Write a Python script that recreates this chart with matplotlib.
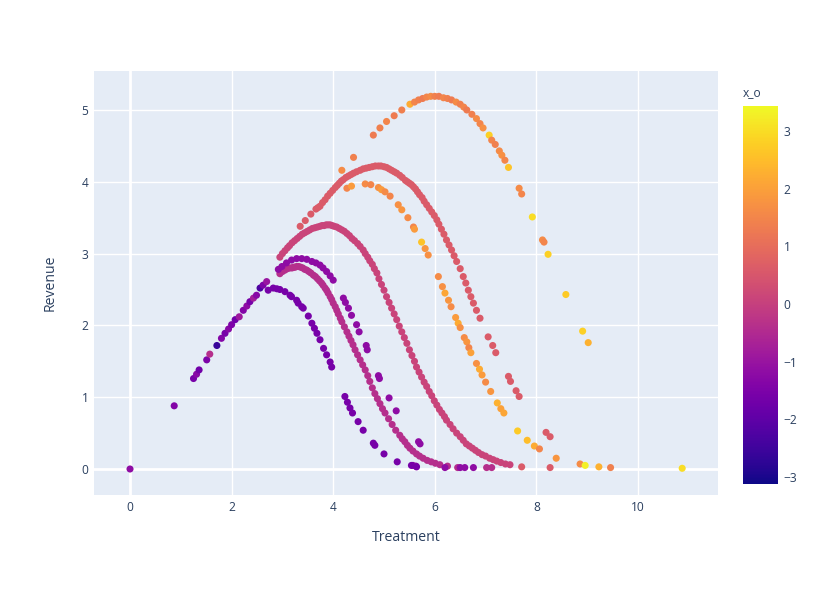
import matplotlib
matplotlib.use("Agg")
import matplotlib.pyplot as plt
import numpy as np

plt.rcParams['font.family'] = ['Open Sans', 'DejaVu Sans']

# ---------------- data ----------------
# shared rising branch
trunk_t = [0.0, 0.87, 1.25, 1.31, 1.36, 1.51, 1.57, 1.71, 1.80, 1.87, 1.94, 2.00, 2.07, 2.15,
           2.23, 2.30, 2.36, 2.43, 2.49, 2.56, 2.62, 2.69]
trunk_r = [0.0, 0.88, 1.26, 1.32, 1.38, 1.52, 1.60, 1.72, 1.82, 1.89, 1.95, 2.01, 2.08, 2.12,
           2.21, 2.27, 2.33, 2.38, 2.42, 2.52, 2.56, 2.61]
trunk_xo = [-1.2, -1.4, -1.6, -1.3, -1.7, -1.5, -0.4, -2.6, -1.4, -1.6, -1.3, -1.5, -1.7, -0.9,
            -1.4, -1.2, -1.6, -0.8, -1.3, -2.3, -1.5, -1.0]

# lower purple curve
lp_t = [2.72, 2.82, 2.89, 2.95, 3.05, 3.15, 3.18, 3.28, 3.31, 3.38, 3.41, 3.51, 3.58, 3.63, 3.68,
        3.74, 3.81, 3.87, 3.94, 3.97, 4.23, 4.28, 4.33, 4.38, 4.49, 4.59, 4.79, 4.82, 5.00, 5.26,
        5.54, 5.64]
lp_r = [2.49, 2.52, 2.51, 2.50, 2.47, 2.42, 2.40, 2.35, 2.31, 2.26, 2.24, 2.13, 2.03, 1.96, 1.89,
        1.80, 1.68, 1.59, 1.49, 1.42, 1.01, 0.93, 0.85, 0.78, 0.66, 0.54, 0.36, 0.33, 0.21, 0.10,
        0.05, 0.03]
lp_xo = -1.6

# upper purple curve
up_t = [2.92, 2.99, 3.08, 3.18, 3.28, 3.38, 3.48, 3.58, 3.66, 3.74, 3.80, 3.87, 3.94, 4.00, 4.20,
        4.24, 4.30, 4.36, 4.46, 4.51, 4.65, 4.67, 4.89, 4.91, 5.10, 5.24, 5.68, 5.71, 5.57, 5.63,
        6.20, 6.50, 6.59, 6.76]
up_r = [2.78, 2.82, 2.87, 2.91, 2.93, 2.93, 2.92, 2.89, 2.87, 2.84, 2.80, 2.75, 2.69, 2.63, 2.38,
        2.32, 2.24, 2.14, 2.01, 1.91, 1.72, 1.66, 1.30, 1.26, 0.99, 0.81, 0.38, 0.35, 0.05, 0.04,
        0.02, 0.02, 0.02, 0.02]
up_xo = -1.2

# magenta curve
mg_t = [2.95, 3.00, 3.05, 3.10, 3.15, 3.19, 3.22, 3.25, 3.28, 3.32, 3.36, 3.40, 3.44, 3.48, 3.52,
        3.56, 3.61, 3.65, 3.69, 3.73, 3.77, 3.80, 3.84, 3.87, 3.90, 3.94, 3.97, 4.00, 4.04, 4.07,
        4.10, 4.14, 4.17, 4.22, 4.27, 4.31, 4.35, 4.39, 4.43, 4.48, 4.53, 4.58, 4.63, 4.68, 4.72,
        4.77, 4.82, 4.87, 4.92, 4.97, 5.02, 5.09, 5.16, 5.23, 5.31, 5.36, 5.41, 5.46, 5.51, 5.57,
        5.64, 5.70, 5.77, 5.85, 5.93, 6.01, 6.10, 6.25, 6.45, 7.02, 7.12]
mg_r = [2.72, 2.75, 2.77, 2.79, 2.80, 2.80, 2.81, 2.81, 2.82, 2.82, 2.81, 2.80, 2.78, 2.77, 2.75,
        2.73, 2.70, 2.68, 2.65, 2.62, 2.59, 2.56, 2.52, 2.49, 2.45, 2.40, 2.36, 2.31, 2.26, 2.21,
        2.16, 2.10, 2.05, 1.98, 1.91, 1.85, 1.79, 1.73, 1.66, 1.59, 1.52, 1.45, 1.38, 1.30, 1.22,
        1.13, 1.05, 0.98, 0.91, 0.84, 0.78, 0.70, 0.62, 0.54, 0.47, 0.42, 0.38, 0.33, 0.29, 0.25,
        0.21, 0.18, 0.15, 0.12, 0.10, 0.08, 0.06, 0.04, 0.02, 0.02, 0.02]
mg_xo = -0.4

# pink curve
pk_t = [2.95, 3.00, 3.05, 3.10, 3.14, 3.19, 3.24, 3.29, 3.34, 3.39, 3.44, 3.49, 3.54, 3.59, 3.64,
        3.69, 3.74, 3.78, 3.82, 3.86, 3.90, 3.94, 3.98, 4.02, 4.07, 4.12, 4.17, 4.22, 4.27, 4.32,
        4.37, 4.42, 4.48, 4.53, 4.59, 4.63, 4.68, 4.72, 4.77, 4.81, 4.86, 4.90, 4.95, 5.00, 5.05,
        5.10, 5.15, 5.20, 5.25, 5.30, 5.35, 5.40, 5.45, 5.50, 5.55, 5.60, 5.64, 5.69, 5.74, 5.79,
        5.84, 5.89, 5.94, 5.99, 6.04, 6.09, 6.14, 6.19, 6.23, 6.30, 6.36, 6.43, 6.50, 6.56, 6.62,
        6.68, 6.74, 6.80, 6.86, 6.93, 7.00, 7.08, 7.15, 7.22, 7.30, 7.39, 7.48]
pk_r = [2.95, 3.00, 3.04, 3.08, 3.11, 3.15, 3.18, 3.21, 3.24, 3.27, 3.29, 3.31, 3.33, 3.35, 3.36,
        3.37, 3.38, 3.39, 3.39, 3.40, 3.40, 3.40, 3.39, 3.38, 3.37, 3.35, 3.33, 3.31, 3.28, 3.25,
        3.21, 3.18, 3.14, 3.10, 3.05, 3.00, 2.95, 2.90, 2.85, 2.79, 2.73, 2.65, 2.57, 2.49, 2.40,
        2.32, 2.24, 2.16, 2.08, 1.99, 1.91, 1.83, 1.75, 1.66, 1.58, 1.50, 1.42, 1.35, 1.28, 1.21,
        1.15, 1.08, 1.02, 0.95, 0.89, 0.83, 0.78, 0.73, 0.68, 0.62, 0.56, 0.50, 0.45, 0.40, 0.35,
        0.32, 0.29, 0.26, 0.23, 0.20, 0.18, 0.15, 0.13, 0.11, 0.09, 0.07, 0.06]
pk_xo = 0.1

# pink-red curve
pr_t = [3.35, 3.45, 3.56, 3.66, 3.70, 3.74, 3.79, 3.84, 3.89, 3.94, 3.99, 4.04, 4.08, 4.12, 4.16,
        4.20, 4.25, 4.30, 4.35, 4.40, 4.46, 4.53, 4.59, 4.65, 4.71, 4.77, 4.83, 4.89, 4.94, 5.00,
        5.05, 5.10, 5.15, 5.20, 5.25, 5.31, 5.36, 5.42, 5.46, 5.50, 5.54, 5.58, 5.62, 5.66, 5.70,
        5.75, 5.79, 5.84, 5.89, 5.94, 5.99, 6.04, 6.08, 6.13, 6.18, 6.23, 6.28, 6.33, 6.38, 6.43,
        6.50, 6.56, 6.61, 6.66, 6.71, 6.76, 6.82, 6.89, 7.05, 7.14, 7.20, 7.45, 7.49, 7.60, 7.66,
        8.19, 8.27, 8.27, 7.71]
pr_r = [3.38, 3.46, 3.55, 3.62, 3.64, 3.66, 3.71, 3.75, 3.80, 3.84, 3.88, 3.92, 3.95, 3.98, 4.01,
        4.03, 4.06, 4.08, 4.10, 4.12, 4.14, 4.16, 4.18, 4.19, 4.20, 4.21, 4.22, 4.22, 4.22, 4.21,
        4.20, 4.18, 4.16, 4.14, 4.12, 4.09, 4.06, 4.02, 4.00, 3.98, 3.96, 3.93, 3.90, 3.86, 3.82,
        3.78, 3.73, 3.68, 3.63, 3.58, 3.53, 3.47, 3.41, 3.34, 3.27, 3.19, 3.12, 3.05, 2.97, 2.89,
        2.79, 2.68, 2.59, 2.49, 2.40, 2.31, 2.21, 2.10, 1.84, 1.72, 1.62, 1.29, 1.22, 1.09, 1.01,
        0.51, 0.45, 0.02, 0.03]
pr_xo = 0.6

# lower orange curve
lo_t = [4.27, 4.36, 4.63, 4.74, 4.89, 4.95, 5.02, 5.12, 5.28, 5.35, 5.47, 5.58, 5.60, 5.74, 5.81,
        5.87, 6.07, 6.15, 6.20, 6.27, 6.32, 6.41, 6.46, 6.50, 6.58, 6.63, 6.67, 6.71, 6.82, 6.88,
        6.93, 7.00, 7.10, 7.23, 7.30, 7.36, 7.63, 7.82, 7.96, 8.06, 8.39, 8.86, 8.96, 9.23, 9.46,
        10.87]
lo_r = [3.91, 3.94, 3.97, 3.96, 3.92, 3.89, 3.86, 3.80, 3.68, 3.61, 3.50, 3.37, 3.34, 3.16, 3.07,
        2.98, 2.68, 2.54, 2.45, 2.35, 2.26, 2.11, 2.03, 1.97, 1.83, 1.77, 1.69, 1.62, 1.47, 1.39,
        1.31, 1.21, 1.08, 0.92, 0.84, 0.78, 0.53, 0.40, 0.32, 0.28, 0.15, 0.07, 0.05, 0.03, 0.02,
        0.01]
lo_xo = [1.5, 1.9, 1.6, 1.5, 1.7, 1.9, 1.6, 1.5, 1.7, 1.8, 1.6, 1.5, 1.9, 2.6, 1.8,
         1.7, 1.6, 1.7, 2.1, 1.8, 1.6, 1.9, 2.2, 1.7, 1.6, 1.8, 1.5, 2.0, 1.7, 2.2,
         1.9, 1.6, 1.8, 2.3, 2.0, 2.1, 2.7, 2.5, 2.2, 1.5, 1.8, 1.6, 3.3, 2.3, 1.4,
         3.0]

# top orange curve
to_t = [4.17, 4.40, 4.79, 4.92, 5.05, 5.20, 5.35, 5.51, 5.60, 5.68, 5.76, 5.84, 5.92, 6.00, 6.08,
        6.17, 6.25, 6.33, 6.42, 6.50, 6.57, 6.63, 6.73, 6.82, 6.89, 6.95, 7.07, 7.12, 7.19, 7.27,
        7.32, 7.38, 7.45, 7.66, 7.71, 7.92, 8.12, 8.15, 8.23, 8.58, 8.91, 9.02]
to_r = [4.16, 4.34, 4.65, 4.75, 4.84, 4.92, 5.00, 5.08, 5.11, 5.14, 5.16, 5.18, 5.19, 5.19, 5.19,
        5.17, 5.16, 5.14, 5.11, 5.08, 5.04, 5.00, 4.94, 4.88, 4.81, 4.75, 4.65, 4.58, 4.52, 4.43,
        4.37, 4.30, 4.20, 3.91, 3.83, 3.51, 3.19, 3.16, 2.99, 2.43, 1.92, 1.76]
to_xo = [1.6, 1.4, 1.3, 1.4, 1.5, 1.3, 1.4, 2.2, 1.5, 1.4, 1.3, 1.5, 1.6, 1.4, 1.3,
         1.5, 1.4, 1.3, 1.6, 1.4, 1.5, 1.3, 1.4, 1.6, 1.5, 1.7, 2.8, 1.5, 1.4, 1.6,
         1.7, 1.5, 2.6, 1.6, 1.5, 3.0, 1.6, 1.5, 2.8, 2.7, 2.8, 2.3]

xo_min, xo_max = -3.12, 3.43
x_ticks = [0, 2, 4, 6, 8, 10]
y_ticks = [0, 1, 2, 3, 4, 5]
cb_ticks = [-3, -2, -1, 0, 1, 2, 3]

# ---------------- figure ----------------
W, H = 830, 595
fig = plt.figure(figsize=(W / 100, H / 100), dpi=100)
L, R, T, B = 94, 718, 70.7, 495
ax = fig.add_axes([L / W, 1 - B / H, (R - L) / W, (B - T) / H])
ax.set_facecolor('#E5ECF6')
for s in ax.spines.values():
    s.set_visible(False)

ax.set_xlim(-0.709, 11.575)
ax.set_ylim(-0.362, 5.547)
ax.set_xticks(x_ticks)
ax.set_yticks(y_ticks)
ax.grid(True, color='white', linewidth=1.0)
ax.set_axisbelow(True)
ax.axhline(0, color='white', linewidth=2.0, zorder=0.5)
ax.axvline(0, color='white', linewidth=2.0, zorder=0.5)

txtc = '#2a3f5f'
ax.tick_params(length=0, labelsize=8.64, labelcolor=txtc, pad=4)
ax.set_xticklabels([str(v) for v in x_ticks])
ax.set_yticklabels([str(v) for v in y_ticks])
ax.set_xlabel('Treatment', fontsize=10.08, color=txtc, labelpad=12)
ax.set_ylabel('Revenue', fontsize=10.08, color=txtc, labelpad=17.5)

ms = 26
kw = dict(s=ms, cmap='plasma', vmin=xo_min, vmax=xo_max, linewidths=0, zorder=3)


def draw(t, r, xo):
    if np.isscalar(xo):
        xo = [xo] * len(t)
    return ax.scatter(t, r, c=xo, **kw)


draw(to_t, to_r, to_xo)
draw(lo_t, lo_r, lo_xo)
draw(pr_t, pr_r, pr_xo)
draw(pk_t, pk_r, pk_xo)
draw(mg_t, mg_r, mg_xo)
draw(up_t, up_r, up_xo)
draw(lp_t, lp_r, lp_xo)
sc = draw(trunk_t, trunk_r, trunk_xo)

# colorbar
cax = fig.add_axes([743 / W, 1 - 484 / H, 35 / W, (484 - 106) / H])
cb = fig.colorbar(sc, cax=cax)
cb.outline.set_visible(False)
cb.set_ticks(cb_ticks)
cb.set_ticklabels([str(v).replace('-', '\u2212') for v in cb_ticks])
cax.tick_params(length=0, labelsize=8.64, labelcolor=txtc, pad=4)
fig.text(743 / W, 1 - 93 / H, 'x_o', fontsize=8.64, color=txtc, ha='left', va='center')

fig.savefig('out.png', dpi=100)
